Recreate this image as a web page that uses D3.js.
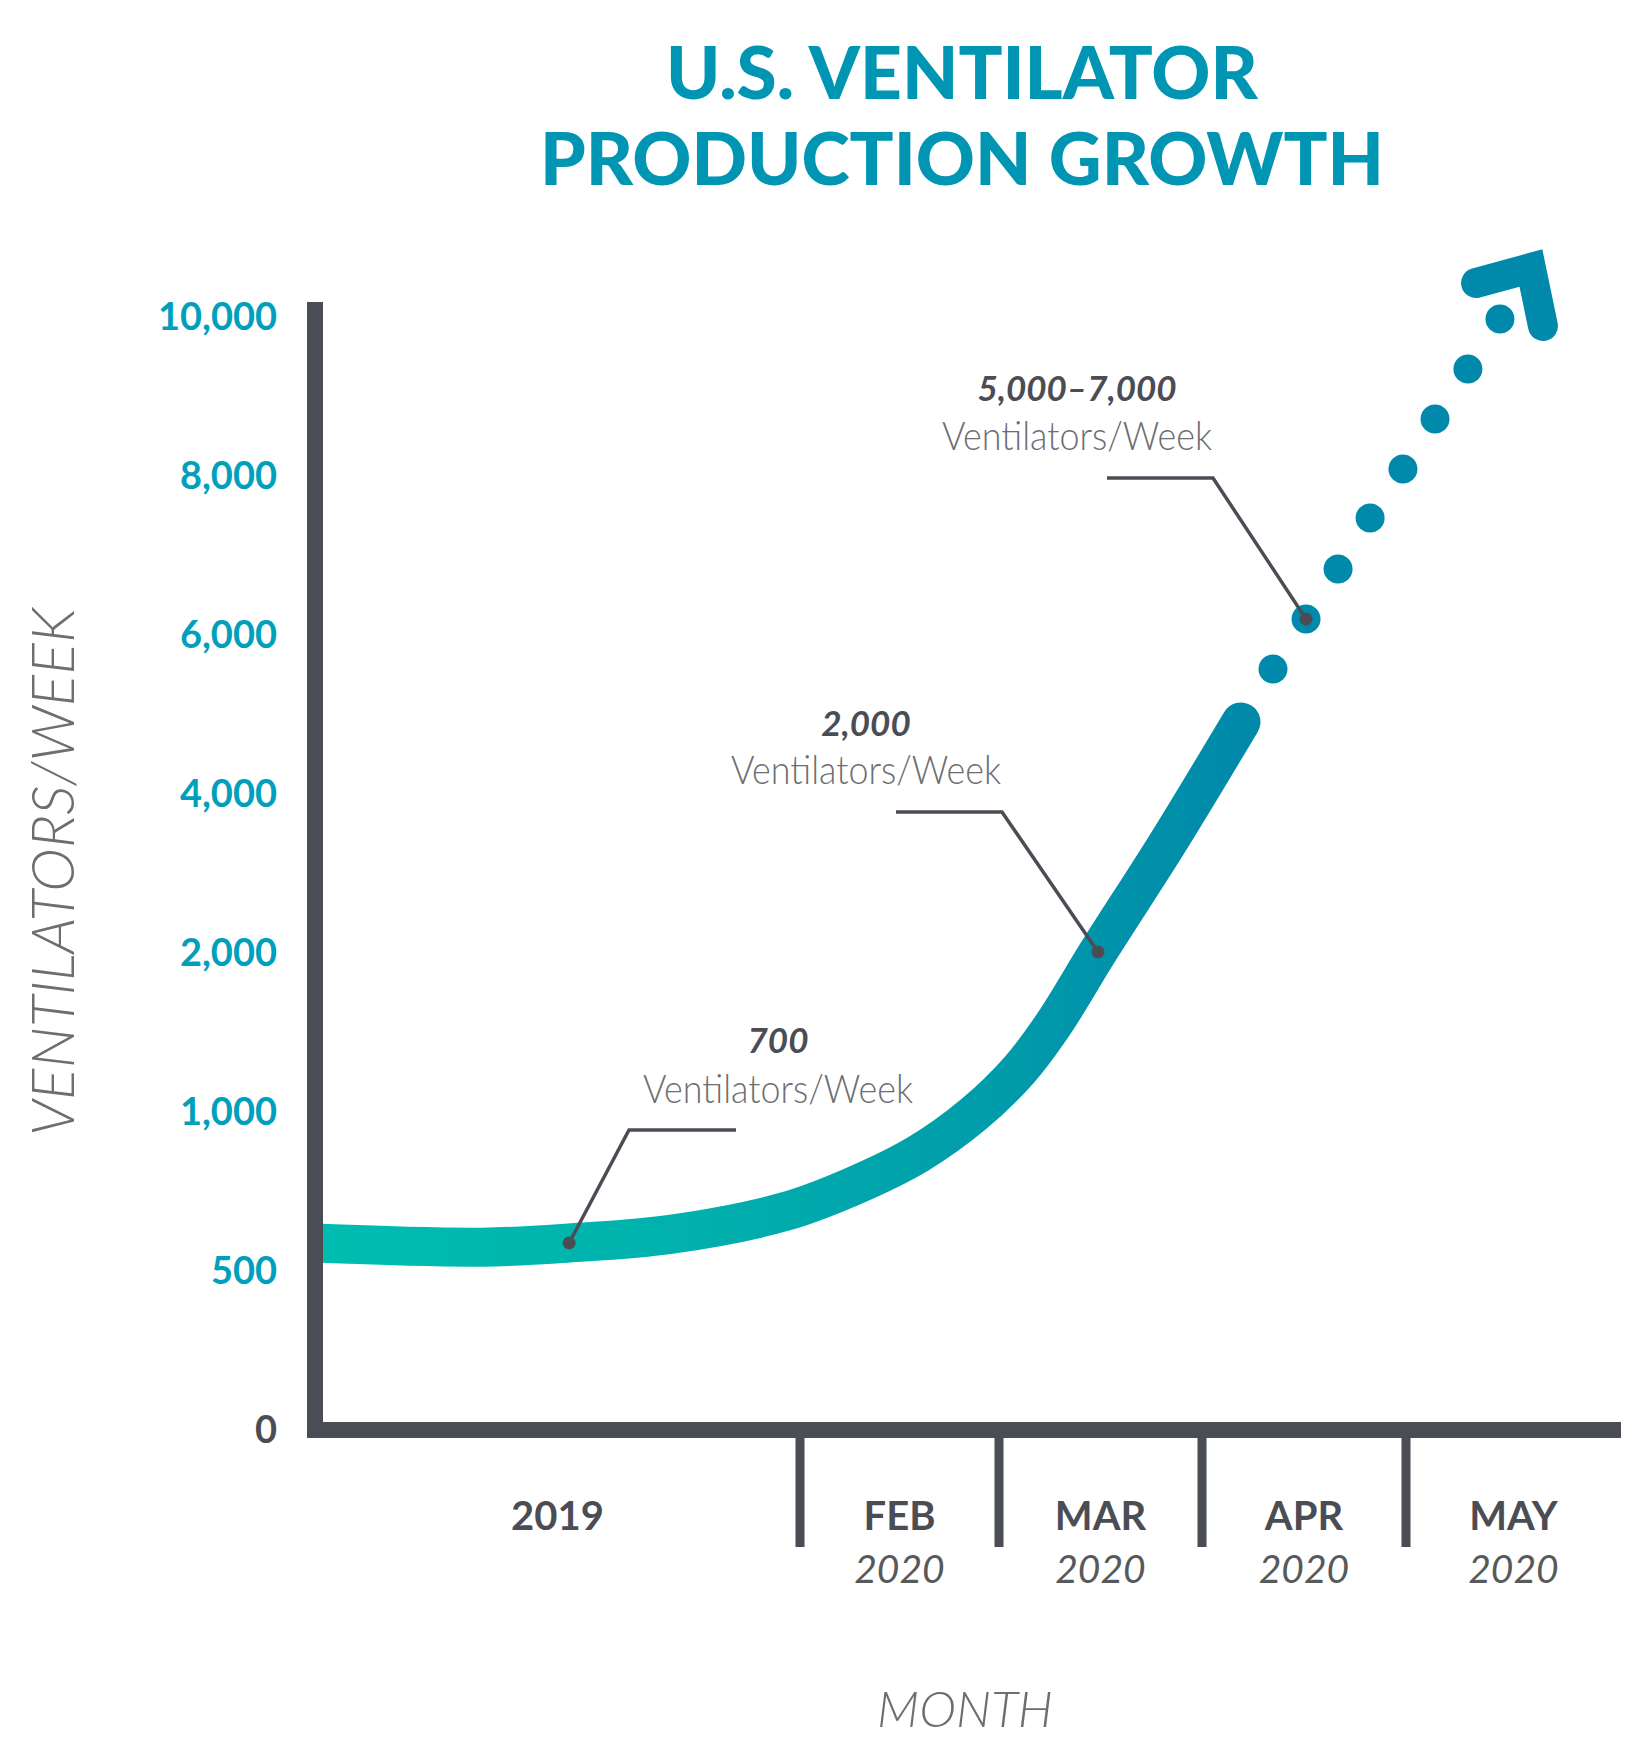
<!DOCTYPE html>
<html>
<head>
<meta charset="utf-8">
<script src="https://cdn.jsdelivr.net/npm/d3@7/dist/d3.min.js"></script>
<style>
  html, body { margin: 0; padding: 0; background: #fff; }
  svg { display: block; }
</style>
</head>
<body>
<svg id="chart" width="1651" height="1756"></svg>
<script>
// ---------- DATA ----------
const titleLines = ["U.S. VENTILATOR", "PRODUCTION GROWTH"];
const yTickValues = [0, 500, 1000, 2000, 4000, 6000, 8000, 10000];
const monthLabels = ["2019", "FEB", "MAR", "APR", "MAY"];
const yearLabels = ["", "2020", "2020", "2020", "2020"];
const monthEdges = [0, 1, 2, 3, 4, 5];

// solid curve (x = month position, y = ventilators/week)
const curveX = [0.0, 0.344, 0.524, 0.736, 0.967, 1.256, 1.593, 1.874, 2.099, 2.266, 2.488, 2.834, 3.191];
const curveY = [588, 575, 588, 616, 686, 764, 868, 994, 1264, 1547, 2013, 3396, 4906];

// projected dotted continuation
const dotX = [3.348, 3.510, 3.667, 3.824, 3.985, 4.135, 4.288, 4.437];
const dotY = [5572, 6201, 6830, 7472, 8088, 8717, 9346, 9975];

// arrow head (left arm end, apex, lower arm end)
const arrowX = [4.326, 4.581, 4.637];
const arrowY = [10428, 10616, 9887];

// annotations
const annValues = ["700", "2,000", "5,000\u20137,000"];
const annUnit = "Ventilators/Week";
const annPointX = [0.524, 2.488, 3.510];
const annPointY = [588, 2013, 6201];

// ---------- LAYOUT ----------
const svg = d3.select("#chart");
const axisColor = "#4b4d55";
const teal = "#0096b3";

const x = d3.scaleLinear().domain(monthEdges).range([315, 800, 999, 1202, 1406, 1621]);
const y = d3.scaleLinear().domain(yTickValues).range([1430, 1271, 1112, 953, 794, 635, 476, 317]);

// Title
svg.append("g").selectAll("text").data(titleLines).join("text")
  .attr("x", 962)
  .attr("y", (d, i) => 99 + i * 86)
  .attr("text-anchor", "middle")
  .attr("font-family", "Lato, sans-serif")
  .attr("font-weight", 900)
  .attr("font-size", 73)
  .attr("fill", teal)
  .text(d => d);

// Gradient for the curve
const defs = svg.append("defs");
const grad = defs.append("linearGradient")
  .attr("id", "curveGrad")
  .attr("gradientUnits", "userSpaceOnUse")
  .attr("x1", 315).attr("y1", 0).attr("x2", 1245).attr("y2", 0);
[["0", "#00bdb0"], ["0.4", "#00b1ad"], ["0.7", "#009eab"], ["1", "#0089a9"]].forEach(s =>
  grad.append("stop").attr("offset", s[0]).attr("stop-color", s[1]));
defs.append("clipPath").attr("id", "plotClip")
  .append("rect").attr("x", 315).attr("y", 0).attr("width", 1400).attr("height", 1430);

// Curve
const curvePts = curveX.map((d, i) => [d, curveY[i]]);
const line = d3.line().x(d => x(d[0])).y(d => y(d[1])).curve(d3.curveCatmullRom.alpha(0.5));
svg.append("path")
  .attr("d", line(curvePts))
  .attr("clip-path", "url(#plotClip)")
  .attr("fill", "none")
  .attr("stroke", "url(#curveGrad)")
  .attr("stroke-width", 39)
  .attr("stroke-linecap", "round");

// Dots
svg.append("g").selectAll("circle").data(dotX.map((d, i) => [d, dotY[i]])).join("circle")
  .attr("cx", d => x(d[0]))
  .attr("cy", d => y(d[1]))
  .attr("r", 14.5)
  .attr("fill", "#0089ab");

// Arrow head
const arrowPts = arrowX.map((d, i) => [d, arrowY[i]]);
svg.append("path")
  .attr("d", d3.line().x(d => x(d[0])).y(d => y(d[1]))(arrowPts))
  .attr("fill", "none")
  .attr("stroke", "#0089ab")
  .attr("stroke-width", 30)
  .attr("stroke-linecap", "round")
  .attr("stroke-linejoin", "miter");

// Annotations
const annLayout = [
  { cx: 778, vy: 1053, uy: 1103, hx1: 736, hx2: 629, hy: 1130 },
  { cx: 866, vy: 736, uy: 784, hx1: 896, hx2: 1002, hy: 812 },
  { cx: 1077, vy: 401, uy: 450, hx1: 1107, hx2: 1213, hy: 478 }
];
annValues.forEach((v, i) => {
  const L = annLayout[i];
  const g = svg.append("g");
  g.append("text")
    .attr("x", L.cx).attr("y", L.vy)
    .attr("text-anchor", "middle")
    .attr("font-family", "Lato, sans-serif")
    .attr("font-weight", 700).attr("font-style", "italic")
    .attr("font-size", 35)
    .attr("fill", "#4b4d55")
    .text(v);
  g.append("text")
    .attr("x", L.cx).attr("y", L.uy)
    .attr("text-anchor", "middle")
    .attr("font-family", "Lato, sans-serif")
    .attr("font-weight", 300)
    .attr("font-size", 40)
    .attr("textLength", 270)
    .attr("lengthAdjust", "spacingAndGlyphs")
    .attr("fill", "#6d6e71")
    .text(annUnit);
  const px = x(annPointX[i]), py = y(annPointY[i]);
  g.append("path")
    .attr("d", `M${L.hx1},${L.hy}L${L.hx2},${L.hy}L${px},${py}`)
    .attr("fill", "none")
    .attr("stroke", "#4b4d55")
    .attr("stroke-width", 3.5);
  g.append("circle").attr("cx", px).attr("cy", py).attr("r", 6.5).attr("fill", "#4b4d55");
});

// Y axis tick labels
const yAxis = d3.axisLeft(y).tickValues(yTickValues).tickSize(0).tickPadding(38)
  .tickFormat(d3.format(","));
const yg = svg.append("g").attr("transform", "translate(315,0)").call(yAxis);
yg.select(".domain").remove();
yg.selectAll("text")
  .attr("font-family", "Lato, sans-serif")
  .attr("font-weight", 700)
  .attr("font-size", 38)
  .attr("fill", d => d === 0 ? "#4b4d55" : "#00a0bd");

// Axis lines
svg.append("line").attr("x1", 315).attr("x2", 315).attr("y1", 302).attr("y2", 1438)
  .attr("stroke", axisColor).attr("stroke-width", 16);
svg.append("line").attr("x1", 307).attr("x2", 1621).attr("y1", 1430).attr("y2", 1430)
  .attr("stroke", axisColor).attr("stroke-width", 16);

// Month separators
svg.append("g").selectAll("line").data(monthEdges.slice(1, 5)).join("line")
  .attr("x1", d => x(d)).attr("x2", d => x(d))
  .attr("y1", 1430).attr("y2", 1547)
  .attr("stroke", axisColor).attr("stroke-width", 9);

// Month labels
const mids = monthLabels.map((d, i) => (x(monthEdges[i]) + x(monthEdges[i + 1])) / 2);
svg.append("g").selectAll("text").data(monthLabels).join("text")
  .attr("x", (d, i) => mids[i]).attr("y", 1530)
  .attr("text-anchor", "middle")
  .attr("font-family", "Lato, sans-serif")
  .attr("font-weight", 700)
  .attr("font-size", 40)
  .attr("fill", "#4b4d55")
  .text(d => d);
svg.append("g").selectAll("text").data(yearLabels).join("text")
  .attr("x", (d, i) => mids[i]).attr("y", 1583)
  .attr("text-anchor", "middle")
  .attr("font-family", "Lato, sans-serif")
  .attr("font-weight", 400).attr("font-style", "italic")
  .attr("font-size", 39)
  .attr("fill", "#58595b")
  .text(d => d);

// Axis titles
svg.append("text")
  .attr("x", 965).attr("y", 1727)
  .attr("text-anchor", "middle")
  .attr("font-family", "Lato, sans-serif")
  .attr("font-weight", 300).attr("font-style", "italic")
  .attr("font-size", 50)
  .attr("fill", "#6d6e71")
  .text("MONTH");
svg.append("text")
  .attr("transform", "translate(74,872) rotate(-90)")
  .attr("text-anchor", "middle")
  .attr("font-family", "Lato, sans-serif")
  .attr("font-weight", 300).attr("font-style", "italic")
  .attr("font-size", 59)
  .attr("fill", "#6d6e71")
  .text("VENTILATORS/WEEK");
</script>
</body>
</html>
